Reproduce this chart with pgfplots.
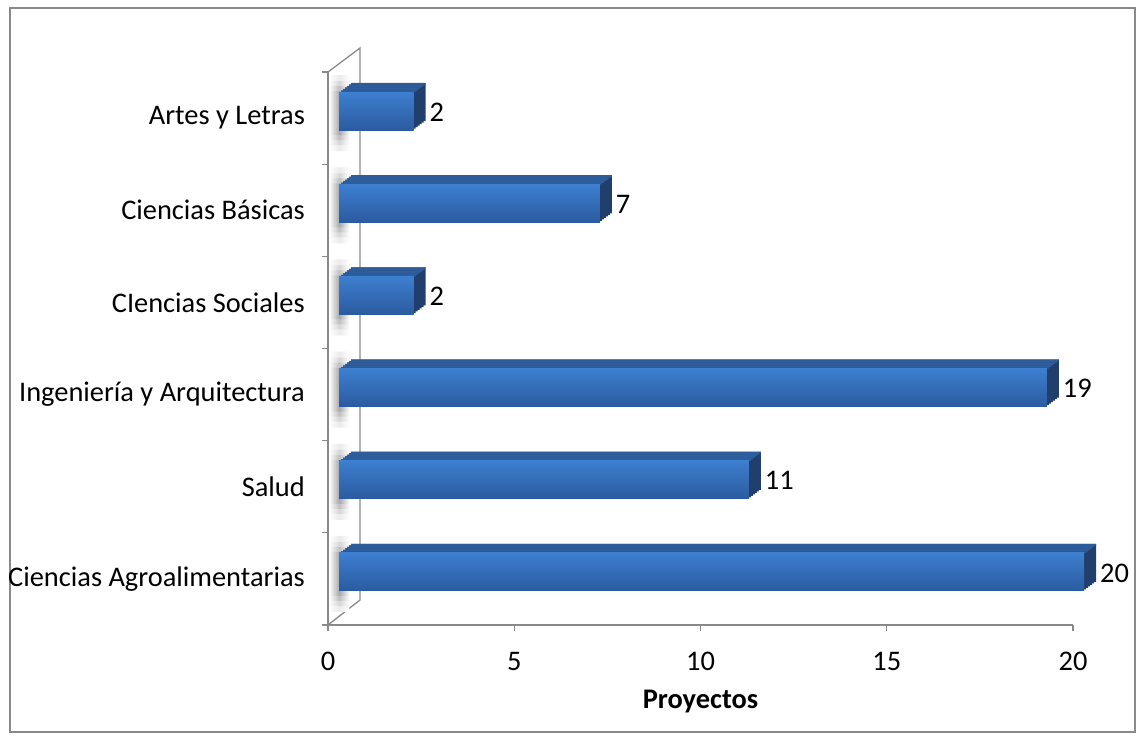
\documentclass[border=0pt]{standalone}
\usepackage{pgfplots}
\usepackage{pgfplotstable}
\pgfplotsset{compat=1.18}
\usepackage{fontspec}
\setmainfont{Carlito}
\definecolor{fronttop}{HTML}{3D7FD0}
\definecolor{frontbot}{HTML}{2B5B9F}
\definecolor{topface}{HTML}{2E5D9C}
\definecolor{sideface}{HTML}{213F6C}
\definecolor{axgray}{HTML}{898989}
\pgfplotstableread{
c v
0 20
1 11
2 19
3 2
4 7
5 2
}\datatable
\begin{document}
\begin{tikzpicture}[font=\fontsize{28.4}{34}\selectfont]
\useasboundingbox (0,0) rectangle (1143pt,740pt);
\fill[white] (0,0) rectangle (1143pt,740pt);
\draw[axgray, line width=1.3pt] (10pt,8pt) rectangle (1135pt,732pt);
\begin{axis}[
  at={(328pt,115pt)}, anchor=south west,
  scale only axis, width=745pt, height=553pt,
  xmin=0, xmax=20, ymin=-0.5, ymax=5.5,
  enlargelimits=false, clip=false,
  axis x line*=bottom, axis y line*=left,
  axis line style={axgray, line width=1.3pt},
  tick align=outside,
  major tick length=6pt, minor tick length=6pt,
  xtick={0,5,10,15,20},
  x tick style={axgray, line width=1.3pt},
  ytick={0,1,2,3,4,5},
  yticklabels={Ciencias Agroalimentarias, Salud, Ingeniería y Arquitectura, CIencias Sociales, Ciencias Básicas, Artes y Letras},
  major y tick style={draw=none},
  minor ytick={-0.5,0.5,1.5,2.5,3.5,4.5,5.5},
  minor y tick style={axgray, line width=1.3pt},
  /pgf/number format/assume math mode=true,
  yticklabel style={anchor=east, inner sep=0pt, xshift=-17pt},
  xticklabel style={anchor=north, inner sep=0pt, yshift=-21pt},
  xlabel={\textbf{Proyectos}},
  every axis x label/.style={at={(rel axis cs:0.5,0)}, anchor=center, yshift=-77pt},
  every node near coord/.append style={anchor=west, inner sep=0pt, xshift=16pt, yshift=6pt, black},
  shadow/.style={xbar, bar shift=5pt, draw=none, left color=white, right color=white, xshift=1pt},
  side/.style={xbar, bar width=38pt, draw=none, fill=sideface},
  topf/.style={xbar, bar width=1.8pt, draw=none, fill=topface},
  front/.style={xbar, bar width=38pt, bar shift=7pt, draw=none, top color=fronttop, bottom color=frontbot, xshift=11pt, nodes near coords},
]
% back wall
\draw[axgray, line width=1.3pt] (rel axis cs:0,1) -- ++(32pt,24pt) -- ([shift={(32pt,25pt)}]rel axis cs:0,0) -- (rel axis cs:0,0);
% shadows on wall
\addplot[shadow, bar width=76pt, middle color=black!8] coordinates {(0.55,0) (0.55,1) (0.55,2) (0.55,3) (0.55,4) (0.55,5)};
\addplot[shadow, bar width=64pt, middle color=black!16] coordinates {(0.55,0) (0.55,1) (0.55,2) (0.55,3) (0.55,4) (0.55,5)};
\addplot[shadow, bar width=54pt, middle color=black!25] coordinates {(0.55,0) (0.55,1) (0.55,2) (0.55,3) (0.55,4) (0.55,5)};
\addplot[shadow, bar width=44pt, middle color=black!34] coordinates {(0.55,0) (0.55,1) (0.55,2) (0.55,3) (0.55,4) (0.55,5)};
% depth (side) copies
\addplot[side, bar shift=8.5pt, xshift=13pt] table[x=v, y=c] {\datatable};
\addplot[side, bar shift=10pt, xshift=15pt] table[x=v, y=c] {\datatable};
\addplot[side, bar shift=11.5pt, xshift=17pt] table[x=v, y=c] {\datatable};
\addplot[side, bar shift=13pt, xshift=19pt] table[x=v, y=c] {\datatable};
\addplot[side, bar shift=14.5pt, xshift=21pt] table[x=v, y=c] {\datatable};
\addplot[side, bar shift=16pt, xshift=23pt] table[x=v, y=c] {\datatable};
% top face strips
\addplot[topf, bar shift=26.75pt, xshift=13pt] table[x=v, y=c] {\datatable};
\addplot[topf, bar shift=28.25pt, xshift=15pt] table[x=v, y=c] {\datatable};
\addplot[topf, bar shift=29.75pt, xshift=17pt] table[x=v, y=c] {\datatable};
\addplot[topf, bar shift=31.25pt, xshift=19pt] table[x=v, y=c] {\datatable};
\addplot[topf, bar shift=32.75pt, xshift=21pt] table[x=v, y=c] {\datatable};
\addplot[topf, bar shift=34.25pt, xshift=23pt] table[x=v, y=c] {\datatable};
% front faces
\addplot[front] coordinates {(20,0)};
\addplot[front] coordinates {(11,1)};
\addplot[front] coordinates {(19,2)};
\addplot[front] coordinates {(2,3)};
\addplot[front] coordinates {(7,4)};
\addplot[front] coordinates {(2,5)};
\end{axis}
\end{tikzpicture}
\end{document}
